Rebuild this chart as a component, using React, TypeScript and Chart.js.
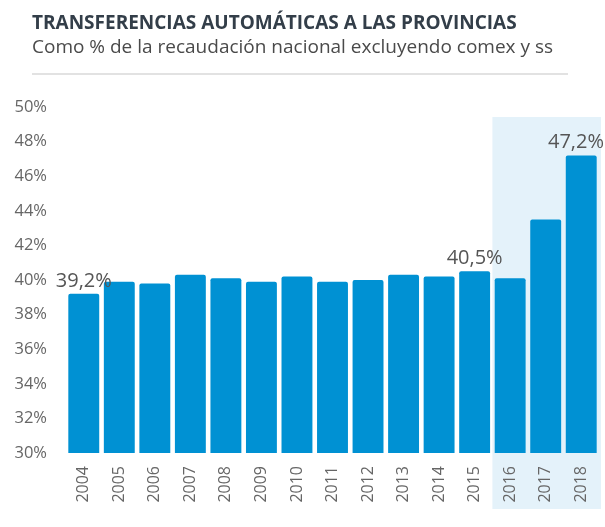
import React, { useEffect, useRef } from "react";
import { Chart, registerables } from "chart.js";

Chart.register(...registerables);

const TITLE = "TRANSFERENCIAS AUTOMÁTICAS A LAS PROVINCIAS";
const SUBTITLE = "Como % de la recaudación nacional excluyendo comex y ss";

const years = ["2004", "2005", "2006", "2007", "2008", "2009", "2010", "2011", "2012", "2013", "2014", "2015", "2016", "2017", "2018"];
const values = [39.2, 39.9, 39.8, 40.3, 40.1, 39.9, 40.2, 39.9, 40.0, 40.3, 40.2, 40.5, 40.1, 43.5, 47.2];
const valueLabels = ["39,2%", "", "", "", "", "", "", "", "", "", "", "40,5%", "", "", "47,2%"];
const highlightFrom = "2016";

const BAR = "#0091d3";
const SHADE = "#e4f2fa";
const FONT = "'Open Sans', 'Noto Sans', sans-serif";

const shadePlugin = {
  id: "shade",
  beforeDraw(chart: any) {
    const { ctx, chartArea, scales } = chart;
    const x = scales.x;
    const i = years.indexOf(highlightFrom);
    const left = (x.getPixelForValue(i - 1) + x.getPixelForValue(i)) / 2;
    ctx.save();
    ctx.fillStyle = SHADE;
    ctx.fillRect(left, chartArea.top + 10, chartArea.right + 2 - left, x.bottom + 6 - (chartArea.top + 10));
    ctx.restore();
  },
};

const labelPlugin = {
  id: "valueLabels",
  afterDatasetsDraw(chart: any) {
    const { ctx } = chart;
    const meta = chart.getDatasetMeta(0);
    ctx.save();
    ctx.font = `400 20px ${FONT}`;
    ctx.fillStyle = "#555555";
    ctx.textBaseline = "alphabetic";
    meta.data.forEach((bar: any, i: number) => {
      const t = valueLabels[i];
      if (!t) return;
      const w = ctx.measureText(t).width;
      let cx = bar.x;
      if (cx + w / 2 > chart.width - 1) cx = chart.width - 1 - w / 2;
      ctx.textAlign = "center";
      ctx.fillText(t, cx, bar.y - 7);
    });
    ctx.restore();
  },
};

export default function App() {
  const ref = useRef<HTMLCanvasElement>(null);
  useEffect(() => {
    if (!ref.current) return;
    const chart = new Chart(ref.current, {
      type: "bar",
      data: {
        labels: years,
        datasets: [
          {
            data: values,
            backgroundColor: BAR,
            borderRadius: 2,
            borderSkipped: "bottom",
            categoryPercentage: 1,
            barPercentage: 0.87,
          },
        ],
      },
      options: {
        animation: false,
        responsive: false,
        maintainAspectRatio: false,
        layout: { padding: { top: 107, right: 6, bottom: 24, left: 0 } },
        plugins: {
          legend: { display: false },
          tooltip: { enabled: false },
          title: { display: false },
        },
        scales: {
          x: {
            grid: { display: false, drawTicks: false },
            border: { display: false },
            afterFit(scale: any) {
              scale.height = 50;
              scale.paddingLeft = 0;
              scale.paddingRight = 0;
            },
            ticks: {
              color: "#666666",
              font: { family: FONT, size: 16 },
              minRotation: 90,
              maxRotation: 90,
              padding: 13,
            },
          },
          y: {
            min: 30,
            max: 50,
            grid: { display: false, drawTicks: false },
            border: { display: false },
            afterFit(scale: any) {
              scale.width = 66;
            },
            ticks: {
              stepSize: 2,
              color: "#666666",
              font: { family: FONT, size: 16.5 },
              padding: 19,
              callback: (v: any) => `${v}%`,
            },
          },
        },
      },
      plugins: [shadePlugin, labelPlugin],
    });
    return () => chart.destroy();
  }, []);

  return (
    <div style={{ position: "absolute", left: 0, top: 0, width: 605, height: 527, background: "#fff" }}>
      <canvas ref={ref} width={605} height={527} style={{ position: "absolute", left: 0, top: 0 }} />
      <div
        style={{
          position: "absolute",
          left: 32,
          top: 11,
          fontFamily: FONT,
          fontWeight: 700,
          fontSize: 19,
          lineHeight: "22px",
          color: "#333e49",
          whiteSpace: "nowrap",
        }}
      >
        {TITLE}
      </div>
      <div
        style={{
          position: "absolute",
          left: 32,
          top: 35,
          fontFamily: FONT,
          fontWeight: 400,
          fontSize: 19,
          lineHeight: "22px",
          color: "#4a4a4a",
          whiteSpace: "nowrap",
        }}
      >
        {SUBTITLE}
      </div>
      <div style={{ position: "absolute", left: 32, top: 73, width: 536, height: 2, background: "#e2e2e2" }} />
    </div>
  );
}
